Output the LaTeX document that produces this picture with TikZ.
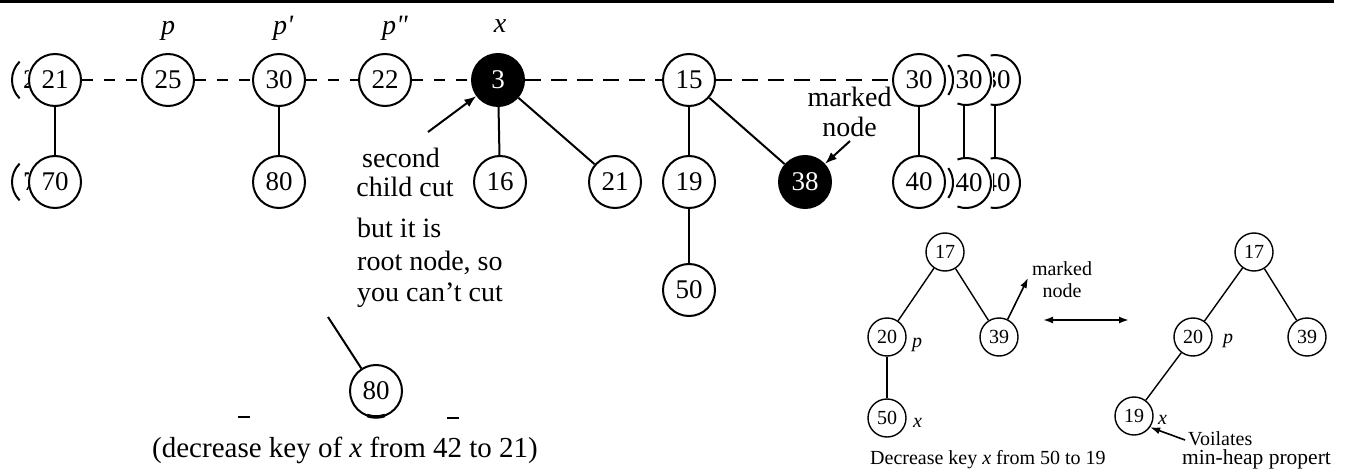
\documentclass[tikz,border=0pt]{standalone}
\usepackage{fontspec}
\setmainfont{Liberation Serif}
\usetikzlibrary{arrows.meta}
\tikzset{
  keynode/.style={circle,draw,line width=2pt,minimum size=52pt,inner sep=0pt,fill=white,font=\fontsize{27}{27}\selectfont},
  markednode/.style={keynode,fill=black,text=white},
  smallnode/.style={circle,draw,line width=1.4pt,minimum size=38pt,inner sep=0pt,fill=white,font=\fontsize{20}{20}\selectfont},
  treeline/.style={line width=2pt},
  streeline/.style={line width=1.4pt},
  rootlink/.style={line width=1.6pt,dash pattern=on 11pt off 11pt},
  rootlinkb/.style={line width=2.2pt,dash pattern=on 16pt off 10pt},
  ptr/.style={line width=2pt,-{Latex[length=12pt,width=9pt]}},
  sptr/.style={line width=1.6pt,-{Latex[length=10pt,width=7pt]}},
  lbl/.style={inner sep=0pt,font=\fontsize{28}{28}\selectfont\itshape},
  notetext/.style={inner sep=0pt,font=\fontsize{28}{28}\selectfont},
  snotetext/.style={inner sep=0pt,font=\fontsize{20}{20}\selectfont},
  slbl/.style={inner sep=0pt,font=\fontsize{20}{20}\selectfont\itshape},
  ghostnum/.style={inner sep=0pt,font=\fontsize{27}{27}\selectfont},
}
\begin{document}
\begin{tikzpicture}[x=1pt,y=-1pt]
\useasboundingbox (0,0) rectangle (1348,470);
\fill[white] (0,0) rectangle (1348,470);

% rule across the top
\coordinate (ruleL) at (0,1.5);
\coordinate (ruleR) at (1334,1.5);
\draw[line width=3pt] (ruleL) -- (ruleR);

% copies of the first tree peeking out on the left
\draw[treeline] (38,80) ++(135:26) arc[start angle=135,end angle=225,radius=26];
\draw[treeline] (38,182) ++(135:26) arc[start angle=135,end angle=225,radius=26];
\begin{scope}
  \clip (8,60) rectangle (28,100);
  \node[ghostnum,anchor=west] (ghostA) at (23,80) {2};
\end{scope}
\begin{scope}
  \clip (8,162) rectangle (28,202);
  \node[ghostnum,anchor=west] (ghostB) at (23,182) {7};
\end{scope}

% root list
\node[keynode] (t21) at (55,80) {21};
\node[keynode] (t25) at (168,80) {25};
\node[keynode] (t30) at (279,80) {30};
\node[keynode] (t22) at (385,80) {22};
\node[markednode] (t3) at (498,80) {3};
\node[keynode] (t15) at (689,80) {15};
\node[keynode] (t30b) at (919,80) {30};

% children
\node[keynode] (t70) at (55,182) {70};
\node[keynode] (t80) at (279,182) {80};
\node[keynode] (t16) at (500,182) {16};
\node[keynode] (t21b) at (615,182) {21};
\node[keynode] (t19) at (689,182) {19};
\node[markednode] (t38) at (805,182) {38};
\node[keynode] (t40) at (919,182) {40};
\node[keynode] (t50) at (689,290) {50};

\draw[rootlink] (t21) -- (t25);
\draw[rootlink] (t25) -- (t30);
\draw[rootlink] (t30) -- (t22);
\draw[rootlink] (t22) -- (t3);
\draw[rootlinkb] (t3) -- (t15);
\draw[rootlinkb] (t15) -- (t30b);

\draw[treeline] (t21) -- (t70);
\draw[treeline] (t30) -- (t80);
\draw[treeline] (t3) -- (t16);
\draw[treeline] (t3) -- (t21b);
\draw[treeline] (t15) -- (t19);
\draw[treeline] (t15) -- (t38);
\draw[treeline] (t19) -- (t50);
\draw[treeline] (t30b) -- (t40);

% copies of the last tree peeking out on the right
\draw[treeline] (927,80) ++(35:26) arc[start angle=35,end angle=-35,radius=26];
\draw[treeline] (966,80) ++(110:25) arc[start angle=110,end angle=-110,radius=25];
\draw[treeline] (995,80) ++(100:25) arc[start angle=100,end angle=-100,radius=25];
\draw[treeline] (927,183) ++(35:26) arc[start angle=35,end angle=-35,radius=26];
\draw[treeline] (966,183) ++(110:25) arc[start angle=110,end angle=-110,radius=25];
\draw[treeline] (995,183) ++(100:25) arc[start angle=100,end angle=-100,radius=25];
\begin{scope}
  \clip (956,60) rectangle (992,100);
  \node[ghostnum] (ghostC) at (969,80) {30};
\end{scope}
\begin{scope}
  \clip (993,60) rectangle (1022,100);
  \node[ghostnum] (ghostD) at (997,80) {30};
\end{scope}
\begin{scope}
  \clip (956,163) rectangle (992,203);
  \node[ghostnum] (ghostE) at (969,183) {40};
\end{scope}
\begin{scope}
  \clip (993,163) rectangle (1022,203);
  \node[ghostnum] (ghostF) at (997,183) {40};
\end{scope}
\coordinate (gB1) at (964,105);
\coordinate (gB2) at (964,158);
\coordinate (gC1) at (995,105);
\coordinate (gC2) at (995,158);
\draw[treeline] (gB1) -- (gB2);
\draw[line width=2.5pt] (gC1) -- (gC2);

% pointer labels
\node[lbl,anchor=base] (lp) at (168,35) {p};
\node[lbl,anchor=base] (lp1) at (283,35) {p\textquotesingle};
\node[lbl,anchor=base] (lp2) at (395,35) {p\textquotedbl};
\node[lbl,anchor=base] (lx) at (500,33) {x};

% notes
\node[notetext,anchor=base] (n1) at (401,168) {second};
\node[notetext,anchor=base] (n2) at (405,197) {child cut};
\coordinate (scTail) at (428,132);
\draw[ptr] (scTail) -- (t3);
\node[notetext,anchor=base west] (n3) at (357,237) {but it is};
\node[notetext,anchor=base west] (n4) at (357,270) {root node, so};
\node[notetext,anchor=base west] (n5) at (357,301) {you can’t cut};

\node[notetext,anchor=base] (m1) at (849.5,107) {marked};
\node[notetext,anchor=base] (m2) at (849.5,137) {node};
\coordinate (mnTail) at (850,141);
\draw[ptr] (mnTail) -- (t38);

% detached child
\node[keynode] (c80) at (376,391) {80};
\coordinate (cutEnd) at (328,317);
\draw[treeline] (cutEnd) -- (c80);
\draw[line width=3.5pt] (c80) ++(70:26) arc[start angle=70,end angle=110,radius=26];
\coordinate (dashL1) at (238,417);
\coordinate (dashL2) at (250,417);
\coordinate (dashR1) at (447,418);
\coordinate (dashR2) at (459,418);
\draw[line width=2pt] (dashL1) -- (dashL2);
\draw[line width=1.5pt] (dashR1) -- (dashR2);
\node[inner sep=0pt,font=\fontsize{29}{29}\selectfont,anchor=base west] (cap1) at (152,457) {(decrease key of \textit{x} from 42 to 21)};

% small example: before
\node[smallnode] (b17) at (945,252) {17};
\node[smallnode] (b20) at (887,337) {20};
\node[smallnode] (b39) at (999,337) {39};
\node[smallnode] (b50) at (887,418) {50};
\draw[streeline] (b17) -- (b20);
\draw[streeline] (b17) -- (b39);
\draw[streeline] (b20) -- (b50);
\node[slbl,anchor=base west] (bp) at (912,347) {p};
\node[slbl,anchor=base west] (bx) at (913,427) {x};
\coordinate (mkTip) at (1028,278);
\draw[sptr] (b39) -- (mkTip);
\node[snotetext,anchor=base] (sm1) at (1062,276) {marked};
\node[snotetext,anchor=base] (sm2) at (1062,297) {node};
\coordinate (dl) at (1043,320);
\coordinate (dr) at (1129,320);
\draw[line width=1.8pt,{Latex[length=10pt,width=7pt]}-{Latex[length=10pt,width=7pt]}] (dl) -- (dr);
\node[snotetext,anchor=base west] (cap2) at (870,464) {Decrease key \textit{x} from 50 to 19};

% small example: after
\node[smallnode] (a17) at (1254,252) {17};
\node[smallnode] (a20) at (1193,337) {20};
\node[smallnode] (a39) at (1307,337) {39};
\node[smallnode] (a19) at (1134,416) {19};
\draw[streeline] (a17) -- (a20);
\draw[streeline] (a17) -- (a39);
\draw[streeline] (a20) -- (a19);
\node[slbl,anchor=base west] (ap) at (1223,343) {p};
\node[slbl,anchor=base west] (ax) at (1158,424) {x};
\coordinate (vTail) at (1185,440);
\draw[sptr] (vTail) -- (a19.-35);
\node[snotetext,anchor=base west] (v1) at (1188,445) {Voilates};
\node[inner sep=0pt,font=\fontsize{21.5}{21.5}\selectfont,anchor=base west] (v2) at (1182,464) {min-heap propert};
\end{tikzpicture}
\end{document}
